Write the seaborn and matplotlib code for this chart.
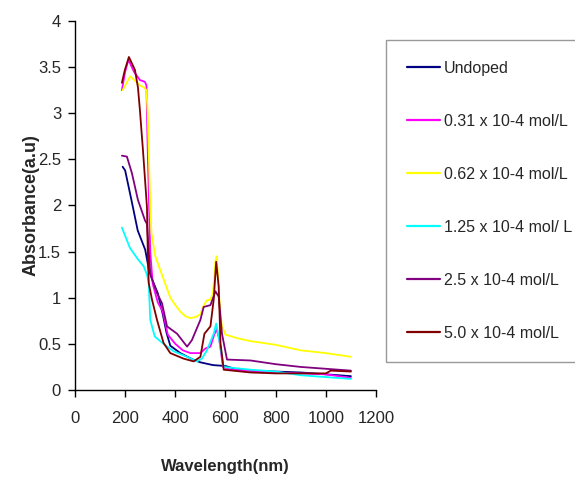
import pandas as pd
import matplotlib
matplotlib.use("Agg")
import matplotlib.pyplot as plt
import seaborn as sns

# Datos (longitud de onda en nm, absorbancia en u.a.)
undoped_wl = [190, 200, 225, 250, 280, 295, 310, 330, 350, 365, 380, 420, 470, 500, 550, 600, 650, 700, 800, 900, 1000, 1100]
undoped_abs = [2.42, 2.38, 2.06, 1.73, 1.52, 1.30, 1.18, 1.05, 0.82, 0.62, 0.48, 0.40, 0.33, 0.30, 0.27, 0.26, 0.22, 0.21, 0.20, 0.19, 0.17, 0.15]

c031_wl = [187, 200, 213, 235, 259, 279, 285, 290, 300, 310, 330, 350, 370, 400, 430, 460, 500, 520, 540, 555, 565, 575, 590, 620, 700, 800, 900, 1000, 1100]
c031_abs = [3.25, 3.45, 3.58, 3.45, 3.36, 3.34, 3.30, 2.60, 1.50, 1.15, 0.95, 0.85, 0.60, 0.50, 0.43, 0.40, 0.40, 0.45, 0.47, 0.60, 0.66, 0.55, 0.25, 0.22, 0.21, 0.19, 0.18, 0.17, 0.13]

c062_wl = [190, 210, 220, 240, 260, 275, 285, 290, 295, 300, 305, 320, 340, 360, 380, 400, 420, 440, 460, 480, 500, 510, 525, 540, 550, 560, 565, 575, 585, 600, 650, 700, 800, 850, 900, 1000, 1100]
c062_abs = [3.25, 3.35, 3.40, 3.35, 3.30, 3.28, 3.25, 3.00, 2.50, 2.00, 1.70, 1.45, 1.30, 1.15, 1.00, 0.92, 0.85, 0.80, 0.78, 0.79, 0.82, 0.90, 0.97, 0.98, 1.05, 1.40, 1.45, 1.00, 0.70, 0.60, 0.56, 0.53, 0.49, 0.46, 0.43, 0.40, 0.36]

c125_wl = [187, 219, 250, 274, 287, 294, 300, 318, 353, 393, 447, 486, 506, 526, 553, 563, 573, 593, 700, 800, 900, 1000, 1100]
c125_abs = [1.76, 1.54, 1.42, 1.34, 1.25, 1.16, 0.76, 0.58, 0.50, 0.42, 0.36, 0.31, 0.34, 0.43, 0.61, 0.72, 0.58, 0.25, 0.22, 0.20, 0.16, 0.14, 0.12]

c25_wl = [187, 207, 227, 251, 279, 287, 300, 327, 347, 367, 407, 447, 466, 500, 513, 540, 560, 573, 586, 606, 700, 800, 900, 1000, 1100]
c25_abs = [2.54, 2.53, 2.35, 2.06, 1.84, 1.80, 1.26, 1.05, 0.94, 0.69, 0.61, 0.47, 0.54, 0.76, 0.90, 0.92, 1.07, 1.01, 0.61, 0.33, 0.32, 0.28, 0.25, 0.23, 0.21]

c50_wl = [187, 199, 215, 239, 251, 259, 267, 271, 287, 290, 294, 307, 327, 353, 380, 433, 473, 500, 516, 540, 553, 563, 573, 580, 593, 700, 800, 900, 1000, 1020, 1100]
c50_abs = [3.33, 3.47, 3.61, 3.47, 3.28, 3.03, 2.74, 2.60, 1.98, 1.52, 1.16, 0.98, 0.76, 0.51, 0.40, 0.34, 0.31, 0.36, 0.61, 0.69, 0.98, 1.39, 1.12, 0.51, 0.22, 0.19, 0.18, 0.18, 0.18, 0.21, 0.20]

etiquetas = ["Undoped", "0.31 x 10-4 mol/L", "0.62 x 10-4 mol/L",
             "1.25 x 10-4 mol/ L", "2.5 x 10-4 mol/L", "5.0 x 10-4 mol/L"]
colores = ["#000080", "#FF00FF", "#FFFF00", "#00FFFF", "#800080", "#800000"]

series = [(undoped_wl, undoped_abs), (c031_wl, c031_abs), (c062_wl, c062_abs),
          (c125_wl, c125_abs), (c25_wl, c25_abs), (c50_wl, c50_abs)]

frames = []
for nombre, (wl, ab) in zip(etiquetas, series):
    frames.append(pd.DataFrame({"wl": wl, "abs": ab, "muestra": nombre}))
df = pd.concat(frames, ignore_index=True)

sns.set_style("ticks")
plt.rcParams["font.family"] = ["Liberation Sans", "DejaVu Sans"]

fig = plt.figure(figsize=(5.75, 4.79), dpi=100)
ax = fig.add_axes([0.1304, 0.1858, 0.5235, 0.7704])

sns.lineplot(data=df, x="wl", y="abs", hue="muestra", hue_order=etiquetas,
             palette=colores, estimator=None, sort=False, linewidth=1.3, ax=ax)

ax.set_xlim(0, 1200)
ax.set_ylim(0, 4)
ax.set_xticks(range(0, 1201, 200))
ax.set_yticks([0, 0.5, 1, 1.5, 2, 2.5, 3, 3.5, 4])
ax.set_yticklabels(["0", "0.5", "1", "1.5", "2", "2.5", "3", "3.5", "4"])
ax.tick_params(labelsize=12, length=5, width=1, color="black")
ax.tick_params(axis="x", pad=10)
ax.tick_params(axis="y", pad=5)
for s in ["left", "bottom"]:
    ax.spines[s].set_linewidth(1)
    ax.spines[s].set_color("black")
sns.despine(ax=ax)

ax.set_xlabel("Wavelength(nm)", fontsize=12, fontweight="bold", labelpad=24)
ax.set_ylabel("Absorbance(a.u)", fontsize=13, fontweight="bold", labelpad=-1)

leg = ax.legend(loc="upper left", bbox_to_anchor=(0.671, 0.9165), bbox_transform=fig.transFigure,
                fontsize=11.5, frameon=True, fancybox=False, edgecolor="#808080",
                borderaxespad=0, borderpad=1.3, labelspacing=2.38,
                handlelength=2.1, handletextpad=0.25)
leg.get_frame().set_linewidth(1)
for line in leg.get_lines():
    line.set_linewidth(1.6)

fig.savefig("out.png", dpi=100)
